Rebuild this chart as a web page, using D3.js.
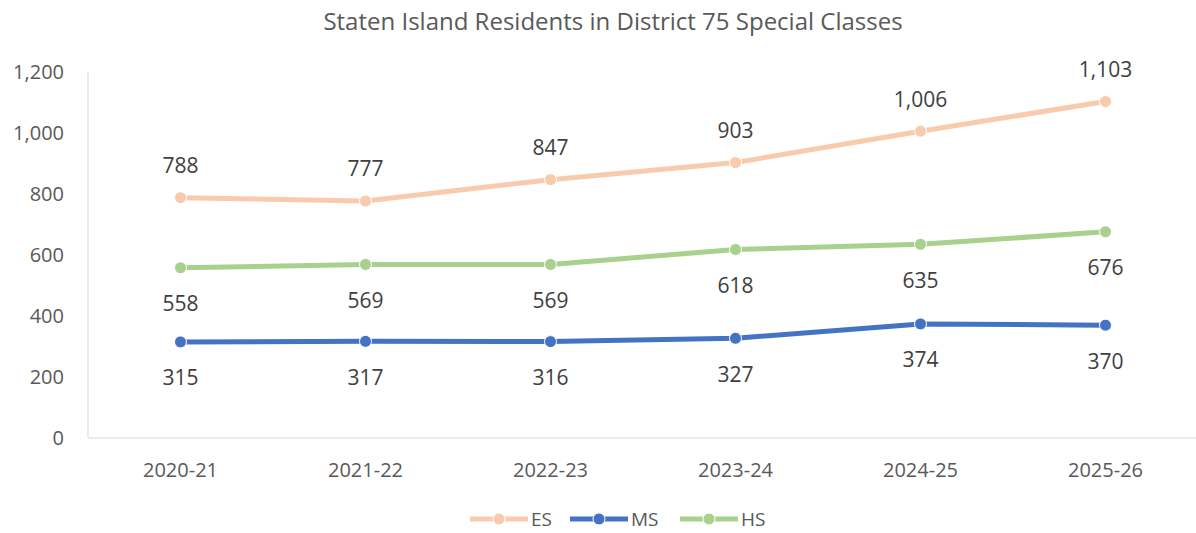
<!DOCTYPE html>
<html>
<head>
<meta charset="utf-8">
<script src="https://cdn.jsdelivr.net/npm/d3@7"></script>
<style>
  body { margin: 0; background: #fff; }
  svg text { font-family: "Open Sans", "Noto Sans", sans-serif; }
</style>
</head>
<body>
<div id="chart"></div>
<script>
var years = ["2020-21", "2021-22", "2022-23", "2023-24", "2024-25", "2025-26"];
var esValues = [788, 777, 847, 903, 1006, 1103];
var msValues = [315, 317, 316, 327, 374, 370];
var hsValues = [558, 569, 569, 618, 635, 676];
var yTicks = [0, 200, 400, 600, 800, 1000, 1200];

var series = [
  {name: "ES", values: esValues, color: "#F8CBAD", labelDy: -32},
  {name: "MS", values: msValues, color: "#4472C4", labelDy: 36},
  {name: "HS", values: hsValues, color: "#A9D18E", labelDy: 36}
];

var width = 1196, height = 533;
var fmt = d3.format(",");

var svg = d3.select("#chart").append("svg")
    .attr("width", width)
    .attr("height", height);

var x = d3.scaleBand()
    .domain(years)
    .range([88, 1198]);

var y = d3.scaleLinear()
    .domain([0, 1200])
    .range([438, 72]);

// title
svg.append("text")
    .attr("x", 613)
    .attr("y", 30)
    .attr("text-anchor", "middle")
    .style("font-size", "24px")
    .style("fill", "#595959")
    .text("Staten Island Residents in District 75 Special Classes");

// axes
svg.append("line")
    .attr("x1", 88).attr("x2", 88)
    .attr("y1", y(1200)).attr("y2", y(0))
    .style("stroke", "#d9d9d9").style("stroke-width", 1);
svg.append("line")
    .attr("x1", 88).attr("x2", 1196)
    .attr("y1", y(0)).attr("y2", y(0))
    .style("stroke", "#d9d9d9").style("stroke-width", 1);

svg.selectAll(".ytick")
    .data(yTicks)
    .enter().append("text")
    .attr("class", "ytick")
    .attr("x", 64)
    .attr("y", function(d) { return y(d); })
    .attr("dy", "0.35em")
    .attr("text-anchor", "end")
    .style("font-size", "20px")
    .style("fill", "#595959")
    .text(function(d) { return fmt(d); });

svg.selectAll(".xtick")
    .data(years)
    .enter().append("text")
    .attr("class", "xtick")
    .attr("x", function(d) { return x(d) + x.bandwidth() / 2; })
    .attr("y", 470)
    .attr("dy", "0.35em")
    .attr("text-anchor", "middle")
    .style("font-size", "20px")
    .style("fill", "#595959")
    .text(function(d) { return d; });

var line = d3.line()
    .x(function(d, i) { return x(years[i]) + x.bandwidth() / 2; })
    .y(function(d) { return y(d); });

series.forEach(function(s) {
  var g = svg.append("g");
  g.append("path")
      .datum(s.values)
      .attr("d", line)
      .style("fill", "none")
      .style("stroke", s.color)
      .style("stroke-width", 5)
      .style("stroke-linejoin", "round");
  g.selectAll("circle")
      .data(s.values)
      .enter().append("circle")
      .attr("cx", function(d, i) { return x(years[i]) + x.bandwidth() / 2; })
      .attr("cy", function(d) { return y(d); })
      .attr("r", 6)
      .style("fill", s.color)
      .style("stroke", "#fff")
      .style("stroke-width", 1);
  g.selectAll("text")
      .data(s.values)
      .enter().append("text")
      .attr("x", function(d, i) { return x(years[i]) + x.bandwidth() / 2; })
      .attr("y", function(d) { return y(d) + s.labelDy; })
      .attr("dy", "0.35em")
      .attr("text-anchor", "middle")
      .style("font-size", "21px")
      .style("fill", "#404040")
      .text(function(d) { return fmt(d); });
});

// legend
var legendX = [470, 570, 680];
series.forEach(function(s, i) {
  var lg = svg.append("g").attr("transform", "translate(" + legendX[i] + ",519)");
  lg.append("line")
      .attr("x1", 0).attr("x2", 58)
      .style("stroke", s.color).style("stroke-width", 5);
  lg.append("circle")
      .attr("cx", 29).attr("r", 6)
      .style("fill", s.color).style("stroke", "#fff").style("stroke-width", 1);
  lg.append("text")
      .attr("x", 61).attr("dy", "0.35em")
      .style("font-size", "19px")
      .style("fill", "#595959")
      .text(s.name);
});
</script>
</body>
</html>
